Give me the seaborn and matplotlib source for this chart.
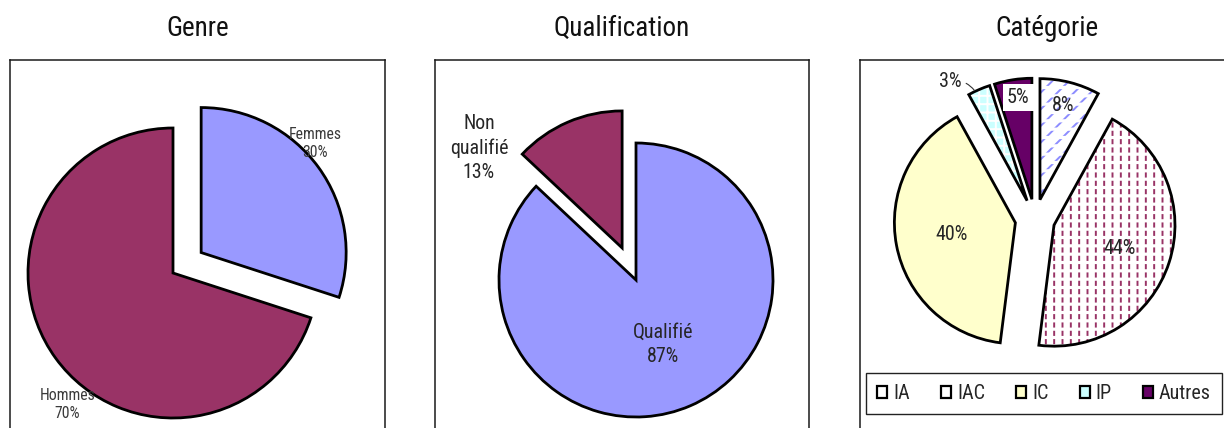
import matplotlib
matplotlib.use("Agg")
import matplotlib.pyplot as plt
from matplotlib import font_manager
from matplotlib.font_manager import FontProperties
from matplotlib.patches import Patch
import numpy as np
import seaborn as sns

# ---- data -------------------------------------------------------------
titles = ["Genre", "Qualification", "Catégorie"]

genre_labels = ["Femmes", "Hommes"]
genre_values = [30, 70]

qualif_labels = ["Qualifié", "Non qualifié"]
qualif_values = [87, 13]

cat_labels = ["IA", "IAC", "IC", "IP", "Autres"]
cat_values = [8, 44, 40, 3, 5]

# ---- style ------------------------------------------------------------
sns.set_theme(style="white")


def pick_font():
    for fam in ["Roboto Condensed", "Archivo Narrow", "PT Sans Narrow", "Liberation Sans"]:
        try:
            font_manager.findfont(FontProperties(family=fam), fallback_to_default=False)
            return fam
        except Exception:
            pass
    return "DejaVu Sans"


FONT = pick_font()
plt.rcParams["font.family"] = [FONT, "DejaVu Sans"]

BLUE = "#9999FF"
PLUM = "#993366"
CREAM = "#FFFFCC"
AQUA = "#CCFFFF"
PURPLE = "#660066"
TXT = "#262626"

W, H = 1224, 428
fig = plt.figure(figsize=(W / 100, H / 100), dpi=100)
fig.patch.set_facecolor("white")


def make_panel(left, right, top, bottom):
    return fig.add_axes([left / W, (H - bottom) / H, (right - left) / W, (bottom - top) / H])


def fit_limits(ax, left, right, top, bottom, cx, cy, r):
    # one data unit == pie radius in pixels, pie centre at (cx, cy)
    ax.set_aspect("auto")
    ax.set_xlim((left - cx) / r, (right - cx) / r)
    ax.set_ylim((cy - bottom) / r, (cy - top) / r)
    ax.set_xticks([])
    ax.set_yticks([])
    ax.set_frame_on(True)
    for s in ax.spines.values():
        s.set_visible(True)
        s.set_color("#1a1a1a")
        s.set_linewidth(1.1)


def layered_pie(ax, values, fills, explode, hatches=None, hatch_colors=None,
                overlay=None, hatch_lw=1.4, overlay_lw=2.3):
    common = dict(startangle=90, counterclock=False, explode=explode, radius=1, frame=True)
    n = len(values)
    ax.pie(values, colors=fills, wedgeprops=dict(linewidth=0), **common)
    if hatches is not None:
        ws, _ = ax.pie(values, colors=["none"] * n, hatch=[h or "" for h in hatches],
                       wedgeprops=dict(linewidth=0), **common)
        for w, h, hc in zip(ws, hatches, hatch_colors):
            if h:
                w.set_edgecolor(hc)
                w.set_linewidth(0)
                if hasattr(w, "set_hatch_linewidth"):
                    w.set_hatch_linewidth(hatch_lw)
    if overlay is not None:
        ws, _ = ax.pie(values, colors=["none"] * n, hatch=[h or "" for h in overlay],
                       wedgeprops=dict(linewidth=0), **common)
        for w, h in zip(ws, overlay):
            if h:
                w.set_edgecolor("white")
                w.set_linewidth(0)
                if hasattr(w, "set_hatch_linewidth"):
                    w.set_hatch_linewidth(overlay_lw)
    outline, _ = ax.pie(values, colors=["none"] * n,
                        wedgeprops=dict(linewidth=2.0, edgecolor="black"), **common)
    return outline


TITLE_KW = dict(fontsize=19.5, pad=17, color="#111111")

# ---- Genre ------------------------------------------------------------
g_box = (10, 385, 60, 440)
ax1 = make_panel(*g_box)
layered_pie(ax1, genre_values, [BLUE, PLUM], explode=[0.24, 0])
fit_limits(ax1, *g_box, cx=173, cy=273, r=145)
genre_text_pos = [(0.98, 0.895), (-0.73, -0.91)]
for lab, val, (x, y) in zip(genre_labels, genre_values, genre_text_pos):
    ax1.text(x, y, f"{lab}\n{val}%", ha="center", va="center", fontsize=11.3,
             color="#3a3a3a", linespacing=1.25)
ax1.set_title(titles[0], **TITLE_KW)

# ---- Qualification ----------------------------------------------------
q_box = (435, 809, 60, 440)
ax2 = make_panel(*q_box)
layered_pie(ax2, qualif_values, [BLUE, PLUM], explode=[0, 0.255])
fit_limits(ax2, *q_box, cx=636, cy=280, r=137)
qualif_text = ["Qualifié", "Non\nqualifié"]
qualif_text_pos = [(0.197, -0.467), (-1.146, 0.964)]
for lab, val, (x, y) in zip(qualif_text, qualif_values, qualif_text_pos):
    ax2.text(x, y, f"{lab}\n{val}%", ha="center", va="center", fontsize=14.3,
             color=TXT, linespacing=1.35)
ax2.set_title(titles[1], **TITLE_KW)

# ---- Catégorie --------------------------------------------------------
c_box = (860, 1234, 60, 440)
ax3 = make_panel(*c_box)
cat_fills = ["white", "white", CREAM, AQUA, PURPLE]
cat_hatch = ["//", "||", None, "++", None]
cat_hatch_col = ["#8c8cff", PLUM, None, "white", None]
cat_overlay = ["--", "--", None, None, None]
cat_wedges = layered_pie(ax3, cat_values, cat_fills, explode=[0.165] * 5,
                         hatches=cat_hatch, hatch_colors=cat_hatch_col,
                         overlay=cat_overlay)
fit_limits(ax3, *c_box, cx=1035, cy=219, r=121)

cat_text_pos = [(0.231, 0.934), (0.70, -0.24), (-0.686, -0.132), None, (-0.14, 1.004)]
for i, (val, pos) in enumerate(zip(cat_values, cat_text_pos)):
    if pos is None:
        continue
    kw = {}
    if cat_labels[i] == "Autres":
        kw["bbox"] = dict(facecolor="white", edgecolor="none", pad=3)
    ax3.text(pos[0], pos[1], f"{val}%", ha="center", va="center", fontsize=14.5,
             color=TXT, **kw)

# small IP slice: label outside with a leader line to its rim
ip = cat_wedges[cat_labels.index("IP")]
ip_ang = np.deg2rad(0.5 * (ip.theta1 + ip.theta2) + 2)
ip_cx, ip_cy = ip.center
ax3.annotate(f"{cat_values[3]}%",
             xy=(ip_cx + np.cos(ip_ang), ip_cy + np.sin(ip_ang)),
             xytext=(-0.70, 1.14), ha="center", va="center", fontsize=14.5, color=TXT,
             arrowprops=dict(arrowstyle="-", color="#333333", lw=0.8,
                             shrinkA=1, shrinkB=1,
                             connectionstyle="arc3,rad=-0.3"))
ax3.set_title(titles[2], x=(1047 - 860) / (1234 - 860), **TITLE_KW)

handles = [Patch(facecolor=f, edgecolor="black", linewidth=1.6) for f in cat_fills]
leg = fig.legend(handles, cat_labels, ncol=5, loc="upper left", mode="expand",
                 bbox_to_anchor=(866 / W, 1 - 373 / H, (1222 - 866) / W, 0),
                 bbox_transform=fig.transFigure,
                 frameon=True, fancybox=False, framealpha=1, fontsize=14.5,
                 handlelength=0.5, handleheight=0.5, handletextpad=0.3,
                 columnspacing=1.0, borderpad=0.55, borderaxespad=0)
leg.get_frame().set_edgecolor("#222222")
leg.get_frame().set_linewidth(1.0)
for t in leg.get_texts():
    t.set_color(TXT)

fig.savefig("out.png", dpi=100, facecolor="white")
